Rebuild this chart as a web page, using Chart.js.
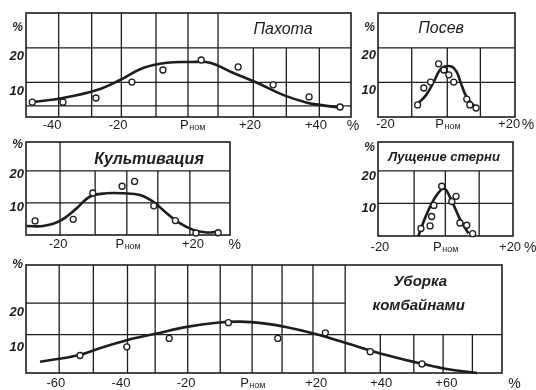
<!DOCTYPE html>
<html>
<head>
<meta charset="utf-8">
<script src="https://cdn.jsdelivr.net/npm/chart.js@4.4.1/dist/chart.umd.min.js"></script>
<style>
  body { margin: 0; background: #fff; }
  #sheet { position: relative; width: 536px; height: 390px; }
  #sheet canvas { position: absolute; left: 0; top: 0; }
</style>
</head>
<body>
<div id="sheet">
  <canvas id="pahota" width="536" height="390"></canvas>
  <canvas id="posev" width="536" height="390"></canvas>
  <canvas id="kult" width="536" height="390"></canvas>
  <canvas id="lush" width="536" height="390"></canvas>
  <canvas id="uborka" width="536" height="390"></canvas>
</div>
<script>
// load deviation from nominal, % (x) vs share of time, % (y)

// Пахота
const pahotaPoints = [[-46, 4.3], [-36.7, 4.3], [-26.7, 5.5], [-15.8, 10.1], [-6.4, 13.6], [5.2, 16.5], [16.4, 14.5], [27, 9.3], [37.9, 5.8], [47.3, 2.9]];
const pahotaCurve = [[-46, 4.3], [-36.7, 5.5], [-26.4, 7.8], [-19.4, 10.7], [-12.4, 14.2], [-5.2, 15.7], [1.8, 15.9], [7.9, 15.7], [14.8, 12.8], [22.1, 9.9], [30, 6.4], [37.3, 4.1], [41.2, 3.5], [48.2, 2.6]];
const pahotaGridX = [-38, -28, -19, -8.5, 1.2, 10.3, 21, 31, 41];
const pahotaGridY = [3.2, 10, 20];
const pahotaTicks = [-40, -20, 0, 20, 40];

// Посев
const posevPoints = [[-9.6, 3.5], [-7.6, 8.4], [-5.4, 10.1], [-2.8, 15.4], [-1.1, 13.6], [0.5, 12.2], [2.1, 10.1], [6.3, 5.2], [7.3, 3.5], [9.3, 2.6]];
const posevCurve = [[-10, 3.5], [-6.8, 6.4], [-4.1, 10.7], [-2.4, 13.6], [-0.8, 14.6], [1.4, 14.6], [3, 13.1], [4.6, 9.3], [6.2, 5.9], [8.4, 3.5], [10, 2]];
const posevGridX = [-11.5, 0, 10.7];
const posevGridY = [10, 20];
const posevTicks = [-20, 0, 20];

// Культивация
const kultPoints = [[-26.8, 4.4], [-15.5, 4.9], [-9.7, 13.1], [-1, 15.2], [2.7, 16.7], [8.4, 9.1], [14.8, 4.5], [20.9, 0.6], [27.5, 0.7]];
const kultCurve = [[-29.3, 2.8], [-24.4, 2.8], [-19.4, 4.4], [-14.5, 8.3], [-10.5, 12], [-5.6, 13], [-0.7, 13], [4.3, 12.5], [8.2, 10.4], [12.2, 6.8], [16.1, 3.7], [20.1, 1.6], [24.1, 0.8], [27, 1]];
const kultGridX = [-19.4, -9, 0.4, 9.6, 19.1];
const kultGridY = [10, 20];
const kultTicks = [-20, 0, 20];

// Лущение стерни
const lushPoints = [[-7.4, 2.3], [-4.6, 3.1], [-4.1, 6], [-3.4, 9.4], [-1, 15.3], [2.1, 10.6], [3.4, 12.2], [4.6, 4], [6.7, 3.3], [8.5, 0.7]];
const lushCurve = [[-8.2, 0], [-5.6, 6.8], [-2.6, 12.5], [-0.3, 14.6], [1.5, 12], [4.6, 5.2], [7.2, 0.8]];
const lushGridX = [-9.5, 0.1, 10.5];
const lushGridY = [10, 20];
const lushTicks = [-20, 0, 20];

// Уборка комбайнами
const uborkaPoints = [[-52.6, 5], [-38.2, 7.5], [-25.2, 9.9], [-7, 14.4], [8.2, 9.9], [22.8, 11.5], [36.6, 6.1], [52.5, 2.6]];
const uborkaCurve = [[-64.9, 3.2], [-53.1, 5.1], [-46.5, 7.1], [-38.2, 9.4], [-29, 11.3], [-19.8, 13.2], [-10.6, 14.4], [-3.4, 14.7], [3.8, 14.2], [11, 13.1], [19.2, 11.3], [29.4, 8.5], [39.7, 5.6], [49.9, 3.2], [59.2, 1.3], [69.4, 0]];
const uborkaGridX = [-59, -48.5, -38, -29.5, -19.5, -9.5, 0.3, 9.5, 19, 28.9, 39.7, 50, 59, 68];
const uborkaGridY = [11, 20];
const uborkaTicks = [-60, -40, -20, 0, 20, 40, 60];

const yTicks = [10, 20];

const ink = '#1d1d1d';
const face = '"Liberation Sans", Arial, sans-serif';
const AXIS_W = 24;   // room left of the frame for the y labels
const AXIS_H = 22;   // room under the frame for the x labels

const panels = [
  { id: 'pahota', points: pahotaPoints, curve: pahotaCurve, gridX: pahotaGridX, gridY: pahotaGridY, ticks: pahotaTicks,
    area: [26, 13, 351, 117], xMin: -47.9, xMax: 50.6, yMax: 30.1, box: { x: 10.3, y: 20 },
    yLabelOffset: 9, xLabelPad: 1, unitY: 25.8, unitX: 51.2, nomShift: -4,
    titles: [{ text: 'Пахота', x: 30, y: 25.2, font: 'italic 16px ' + face }] },
  { id: 'posev', points: posevPoints, curve: posevCurve, gridX: posevGridX, gridY: posevGridY, ticks: posevTicks,
    area: [378, 13, 515, 117], xMin: -22.4, xMax: 21.9, yMax: 30.1, box: { x: -22.4, y: 20 },
    yLabelOffset: 8, xLabelPad: 0, unitY: 25.8, unitX: 26.1, nomShift: -12,
    titles: [{ text: 'Посев', x: -2, y: 25.5, font: 'italic 16px ' + face }] },
  { id: 'kult', points: kultPoints, curve: kultCurve, gridX: kultGridX, gridY: kultGridY, ticks: kultTicks,
    area: [26, 142, 230, 235], xMin: -29.5, xMax: 31, yMax: 29, box: { x: -19.4, y: 20 },
    yLabelOffset: 4, xLabelPad: 2, unitY: 28.1, unitX: 32.4, nomShift: -10,
    titles: [{ text: 'Культивация', x: 7, y: 23.4, font: 'italic bold 16px ' + face }] },
  { id: 'lush', points: lushPoints, curve: lushCurve, gridX: lushGridX, gridY: lushGridY, ticks: lushTicks,
    area: [378, 142, 513, 236], xMin: -20.6, xMax: 20.9, yMax: 28.9, box: { x: -20.6, y: 20 },
    yLabelOffset: 5, xLabelPad: 4, unitY: 27, unitX: 26.2, nomShift: -12,
    titles: [{ text: 'Лущение стерни', x: -0.3, y: 24.3, font: 'italic bold 13px ' + face }] },
  { id: 'uborka', points: uborkaPoints, curve: uborkaCurve, gridX: uborkaGridX, gridY: uborkaGridY, ticks: uborkaTicks,
    area: [26, 265, 502, 373], xMin: -69.2, xMax: 77.1, yMax: 30.9, box: { x: 28.9, y: 11 },
    yLabelOffset: 9, xLabelPad: 3, unitY: 30.9, unitX: 80.9, nomShift: -11,
    titles: [{ text: 'Уборка', x: 52, y: 26, font: 'italic bold 15px ' + face },
             { text: 'комбайнами', x: 51.5, y: 19.1, font: 'italic bold 15px ' + face }] }
];

// grid with a title box cut out of the upper right, plus titles and unit signs
function paperPlugin(p) {
  return {
    id: 'paper',
    beforeDatasetsDraw(chart) {
      const { ctx, chartArea: a, scales: { x, y } } = chart;
      const bx = x.getPixelForValue(p.box.x);
      const by = y.getPixelForValue(p.box.y);
      ctx.save();
      ctx.strokeStyle = ink;
      ctx.lineWidth = 1.3;
      ctx.beginPath();
      p.gridX.forEach(v => {
        const px = x.getPixelForValue(v);
        ctx.moveTo(px, a.bottom);
        ctx.lineTo(px, v > p.box.x ? by : a.top);
      });
      p.gridY.forEach(v => {
        const py = y.getPixelForValue(v);
        ctx.moveTo(a.left, py);
        ctx.lineTo(v > p.box.y ? bx : a.right, py);
      });
      ctx.stroke();
      ctx.lineWidth = 1.6;
      ctx.strokeRect(a.left, a.top, a.right - a.left, a.bottom - a.top);
      ctx.restore();
    },
    afterDraw(chart) {
      const { ctx, chartArea: a, scales: { x, y } } = chart;
      ctx.save();
      ctx.fillStyle = ink;
      ctx.textBaseline = 'middle';
      ctx.textAlign = 'center';
      p.titles.forEach(t => {
        ctx.font = t.font;
        ctx.fillText(t.text, x.getPixelForValue(t.x), y.getPixelForValue(t.y));
      });
      const labelY = a.bottom + p.xLabelPad + 7.8;
      ctx.font = '14px ' + face;
      ctx.fillText('%', x.getPixelForValue(p.unitX), labelY);
      ctx.textAlign = 'right';
      ctx.font = 'italic bold 12px ' + face;
      ctx.fillText('%', a.left - 3, y.getPixelForValue(p.unitY));
      // nominal load label at zero: P with small "ном"
      ctx.textAlign = 'left';
      const x0 = x.getPixelForValue(0) + p.nomShift;
      ctx.font = '13px ' + face;
      ctx.fillText('P', x0, labelY);
      const w = ctx.measureText('P').width;
      ctx.font = '9px ' + face;
      ctx.fillText('ном', x0 + w + 0.5, labelY + 2);
      ctx.restore();
    }
  };
}

panels.forEach(p => {
  const [l, t, r, b] = p.area;
  new Chart(document.getElementById(p.id), {
    type: 'line',
    data: {
      datasets: [
        {
          data: p.points.map(([x, y]) => ({ x, y })),
          showLine: false,
          pointRadius: 3,
          pointBorderWidth: 1.3,
          pointBorderColor: ink,
          pointBackgroundColor: '#fff',
          clip: false
        },
        {
          data: p.curve.map(([x, y]) => ({ x, y })),
          borderColor: ink,
          borderWidth: 2.6,
          tension: 0.4,
          pointRadius: 0,
          clip: false
        }
      ]
    },
    options: {
      responsive: false,
      animation: false,
      events: [],
      layout: { padding: { left: l - AXIS_W, top: t, right: 536 - r, bottom: 390 - b - AXIS_H } },
      scales: {
        x: {
          type: 'linear',
          min: p.xMin,
          max: p.xMax,
          grid: { display: false, drawTicks: false },
          border: { display: false },
          afterBuildTicks: s => { s.ticks = p.ticks.map(v => ({ value: v })); },
          afterFit: s => { s.height = AXIS_H; },
          ticks: {
            autoSkip: false,
            maxRotation: 0,
            padding: p.xLabelPad,
            color: ink,
            font: { family: face, size: 13 },
            callback: v => v > 0 ? '+' + v : (v === 0 ? '' : String(v))
          }
        },
        y: {
          min: 0,
          max: p.yMax,
          grid: { display: false, drawTicks: false },
          border: { display: false },
          afterBuildTicks: s => { s.ticks = yTicks.map(v => ({ value: v })); },
          afterFit: s => { s.width = AXIS_W; },
          ticks: {
            padding: 2,
            labelOffset: p.yLabelOffset,
            color: ink,
            font: { family: face, size: 13, style: 'italic', weight: 'bold' }
          }
        }
      },
      plugins: { legend: { display: false }, tooltip: { enabled: false } }
    },
    plugins: [paperPlugin(p)]
  });
});
</script>
</body>
</html>
